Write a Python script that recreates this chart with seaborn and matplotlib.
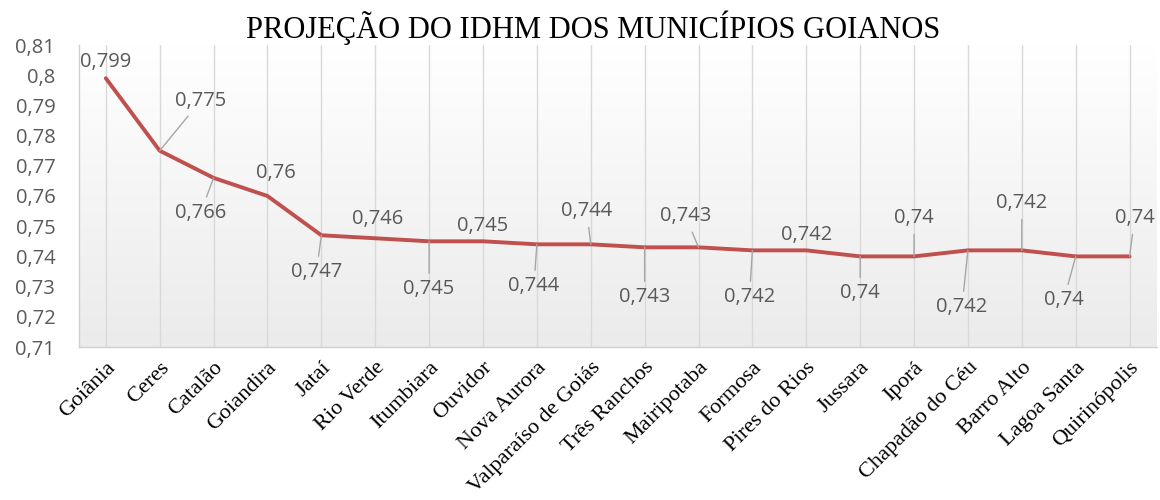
import numpy as np
import pandas as pd
import matplotlib
matplotlib.use("Agg")
import matplotlib.pyplot as plt
import seaborn as sns
from matplotlib.ticker import FuncFormatter, MultipleLocator

# --- Data ---
municipios = [
    "Goiânia", "Ceres", "Catalão", "Goiandira", "Jataí", "Rio Verde",
    "Itumbiara", "Ouvidor", "Nova Aurora", "Valparaíso de Goiás",
    "Três Ranchos", "Mairipotaba", "Formosa", "Pires do Rios", "Jussara",
    "Iporá", "Chapadão do Céu", "Barro Alto", "Lagoa Santa", "Quirinópolis",
]
idhm = [0.799, 0.775, 0.766, 0.76, 0.747, 0.746, 0.745, 0.745, 0.744, 0.744,
        0.743, 0.743, 0.742, 0.742, 0.74, 0.74, 0.742, 0.742, 0.74, 0.74]

# label placement (offset in pixels) and whether a leader line is drawn
label_dx = [0, 41, -13, 8, -5, 2, 0, 0, -3, -4, 0, -13, -3, 0, 0, 0, -6, 0, -12, 5]
label_dy = [16, 50, -35, 23, -37, 19, -48, 15, -42, 33, -50, 31, -47, 15, -37, 38, -57, 47, -44, 38]
leader = [False, True, True, False, True, False, True, False, True, True,
          True, True, True, False, True, True, True, True, True, True]

df = pd.DataFrame({"municipio": municipios, "idhm": idhm})

# --- Plot ---
sns.set_theme(style="white")
plt.rcParams["font.family"] = ["Open Sans", "DejaVu Sans"]

fig = plt.figure(figsize=(11.6, 5.0), dpi=100)
ax = fig.add_axes([0.068, 0.306, 0.929, 0.604])

# light vertical gradient behind the plot (white on top, grey at the bottom)
grad = np.linspace(0, 1, 256).reshape(-1, 1)
ax.imshow(grad, extent=[0, 1, 0, 1], transform=ax.transAxes, aspect="auto",
          cmap=matplotlib.colors.LinearSegmentedColormap.from_list("bg", ["#ffffff", "#ebebeb"]),
          zorder=0, interpolation="bicubic")

sns.lineplot(data=df, x="municipio", y="idhm", sort=False, color="#C0504D",
             linewidth=2.8, ax=ax, zorder=3)

ax.set_xlim(-0.5, len(municipios) - 0.5)
ax.set_ylim(0.71, 0.81)
ax.yaxis.set_major_locator(MultipleLocator(0.01))
ax.yaxis.set_major_formatter(FuncFormatter(lambda v, p: f"{round(v, 2):g}".replace(".", ",")))

# vertical gridlines at every category
ax.xaxis.grid(True, color="#d9d9d9", linewidth=1.0, zorder=1)
ax.yaxis.grid(False)
ax.set_axisbelow(True)

for s in ["top", "right"]:
    ax.spines[s].set_visible(False)
for s in ["left", "bottom"]:
    ax.spines[s].set_color("#d0d0d0")
    ax.spines[s].set_linewidth(1.0)

ax.tick_params(axis="y", labelsize=14.5, labelcolor="#595959", length=0, pad=17)
ax.tick_params(axis="x", length=0, pad=8)
ax.set_xticks(range(len(municipios)))
ax.set_xticklabels(municipios, rotation=45, ha="right", rotation_mode="anchor",
                   family="Liberation Serif", fontsize=16, color="black")
ax.set_xlabel("")
ax.set_ylabel("")

# data labels
for i, v in enumerate(idhm):
    txt = f"{v:g}".replace(".", ",")
    props = dict(arrowstyle="-", color="#a6a6a6", lw=1.0, shrinkA=2, shrinkB=0) if leader[i] else None
    ax.annotate(txt, xy=(i, v), xytext=(label_dx[i], label_dy[i]),
                textcoords="offset pixels", ha="center", va="center",
                fontsize=14.5, color="#595959", arrowprops=props, zorder=4,
                annotation_clip=False)

fig.text(0.511, 0.945, "PROJEÇÃO DO IDHM DOS MUNICÍPIOS GOIANOS",
         ha="center", va="center", family="Liberation Serif", fontsize=22, color="black")

fig.savefig("out.png", dpi=100)
plt.close(fig)
